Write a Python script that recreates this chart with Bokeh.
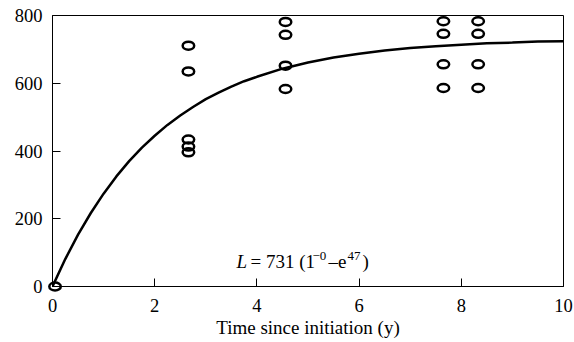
from bokeh.plotting import figure
from bokeh.models import Range1d, Label, FixedTicker, ColumnDataSource
from bokeh.embed import file_html
from bokeh.resources import INLINE

# Observed points (time in years, value)
obs_t = [0.05, 2.66, 2.66, 2.66, 2.66, 2.66,
         4.56, 4.56, 4.56, 4.56,
         7.65, 7.65, 7.65, 7.65,
         8.33, 8.33, 8.33, 8.33]
obs_L = [0, 711, 635, 434, 413, 396,
         781, 743, 652, 583,
         783, 746, 656, 586,
         783, 746, 656, 586]

# Fitted curve
fit_t = [0, 0.25, 0.5, 0.75, 1, 1.25, 1.5, 1.75, 2, 2.25, 2.5, 2.75, 3, 3.25, 3.5, 3.75, 4,
         4.5, 5, 5.5, 6, 6.5, 7, 7.5, 8, 8.5, 9, 9.5, 10]
fit_L = [0, 81, 153, 217, 274, 325, 370, 410, 445, 477, 505, 530, 553, 572, 590, 606, 619,
         643, 661, 676, 687, 697, 704, 709, 714, 718, 720, 723, 724]

x_ticks = [0, 2, 4, 6, 8, 10]
y_ticks = [0, 200, 400, 600, 800]
x_title = "Time since initiation (y)"

FONT = "Liberation Serif"

p = figure(width=574, height=342, output_backend="svg", toolbar_location=None,
           x_range=Range1d(0, 10), y_range=Range1d(0, 800),
           min_border_left=52, min_border_right=11, min_border_top=15, min_border_bottom=56)
p.xgrid.visible = False
p.ygrid.visible = False
p.outline_line_color = "black"
p.outline_line_alpha = 1
p.outline_line_width = 1
p.background_fill_color = "white"
p.border_fill_color = "white"

for ax, ticks in ((p.xaxis, x_ticks), (p.yaxis, y_ticks)):
    ax.ticker = FixedTicker(ticks=ticks)
    ax.major_tick_in = 8
    ax.major_tick_out = 0
    ax.minor_tick_line_color = None
    ax.axis_line_color = "black"
    ax.major_tick_line_color = "black"
    ax.major_label_text_font = FONT
    ax.major_label_text_font_size = "18.5px"
    ax.major_label_text_color = "black"

p.xaxis.major_label_standoff = 12
p.yaxis.major_label_standoff = 10
p.xaxis.axis_label = x_title
p.xaxis.axis_label_text_font = FONT
p.xaxis.axis_label_text_font_style = "normal"
p.xaxis.axis_label_text_font_size = "19px"
p.xaxis.axis_label_text_color = "black"
p.xaxis.axis_label_standoff = 2

p.line(fit_t, fit_L, line_color="black", line_width=2.5)
src = ColumnDataSource(dict(t=obs_t, L=obs_L))
p.ellipse(x="t", y="L", width=11.5, height=8, width_units="screen", height_units="screen",
          source=src, fill_color=None, line_color="black", line_width=2.5, level="overlay")

# Equation annotation
eq_x, eq_y = 3.6, 75
pieces = [
    ("L", 0, 0, "19px", "italic"),
    ("= 731 (1", 14, 0, "19px", "normal"),
    ("\u22120", 76, 5, "13px", "normal"),
    ("\u2013e", 92, 0, "19px", "normal"),
    ("47", 111, 5, "13px", "normal"),
    (")", 126, 0, "19px", "normal"),
]
for txt, dx, dy, fs, style in pieces:
    p.add_layout(Label(x=eq_x, y=eq_y, x_offset=dx, y_offset=dy, text=txt,
                       text_font=FONT, text_font_size=fs, text_font_style=style,
                       text_baseline="alphabetic", text_color="black"))

open("out.html", "w").write(file_html(p, INLINE))
